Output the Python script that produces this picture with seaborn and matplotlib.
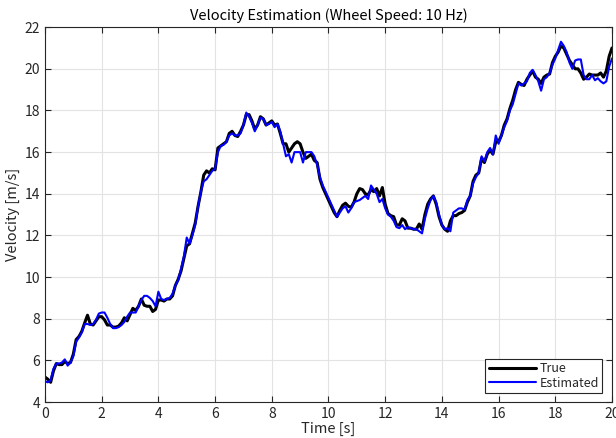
import numpy as np
import pandas as pd
import matplotlib
matplotlib.use("Agg")
import matplotlib.pyplot as plt
import seaborn as sns

# time axis, 0.1 s steps
time_s = np.round(np.arange(0, 20.05, 0.1), 1)

true_vel = [
    5.2, 5.1, 4.95, 5.5, 5.85, 5.8, 5.8, 5.95, 5.85, 5.9,
    6.3, 7.0, 7.15, 7.4, 7.8, 8.17, 7.75, 7.7, 7.9, 8.1,
    8.1, 7.95, 7.7, 7.7, 7.6, 7.6, 7.65, 7.8, 8.05, 7.9,
    8.2, 8.5, 8.4, 8.6, 8.95, 8.65, 8.6, 8.6, 8.35, 8.45,
    8.9, 8.9, 8.85, 8.95, 8.95, 9.1, 9.6, 9.9, 10.3, 10.9,
    11.5, 11.6, 12.1, 12.6, 13.4, 14.1, 14.9, 15.1, 15.0, 15.2,
    15.15, 16.2, 16.3, 16.4, 16.5, 16.9, 17.0, 16.8, 16.75, 17.0,
    17.3, 17.8, 17.8, 17.5, 17.1, 17.3, 17.7, 17.6, 17.3, 17.4,
    17.5, 17.3, 17.35, 16.9, 16.4, 16.4, 16.0, 16.2, 16.4, 16.5,
    16.4, 16.0, 15.7, 15.8, 15.9, 15.6, 15.5, 14.7, 14.3, 14.0,
    13.7, 13.4, 13.1, 12.9, 13.2, 13.45, 13.55, 13.4, 13.35, 13.6,
    14.0, 14.25, 14.2, 14.0, 13.95, 14.2, 14.1, 14.25, 13.9, 14.3,
    13.5, 13.05, 12.95, 12.9, 12.5, 12.5, 12.8, 12.7, 12.35, 12.35,
    12.3, 12.3, 12.55, 12.3, 13.0, 13.5, 13.75, 13.9, 13.5, 12.9,
    12.5, 12.3, 12.2, 12.7, 12.95, 12.95, 13.05, 13.1, 13.2, 13.6,
    13.9, 14.6, 14.9, 15.0, 15.7, 15.5, 15.9, 16.1, 15.9, 16.5,
    16.5, 16.8, 17.3, 17.6, 18.1, 18.5, 19.0, 19.35, 19.25, 19.2,
    19.5, 19.7, 19.9, 19.6, 19.5, 19.3, 19.6, 19.7, 19.75, 20.3,
    20.6, 20.8, 21.1, 21.0, 20.7, 20.4, 20.2, 20.0, 20.0, 19.8,
    19.5, 19.6, 19.75, 19.7, 19.7, 19.7, 19.8, 19.6, 19.9, 20.6,
    21.0,
]

est_vel = [
    5.0, 4.95, 5.05, 5.6, 5.85, 5.85, 5.9, 6.05, 5.75, 5.9,
    6.2, 6.9, 7.1, 7.35, 7.75, 7.75, 7.7, 7.75, 7.95, 8.25,
    8.3, 8.3, 8.05, 7.75, 7.55, 7.55, 7.6, 7.7, 7.85, 8.1,
    8.3, 8.3, 8.3, 8.6, 8.9, 9.1, 9.1, 9.0, 8.85, 8.6,
    9.3, 8.95, 8.9, 8.95, 9.0, 9.2, 9.6, 9.85, 10.4, 11.0,
    11.9, 11.6, 12.0, 12.5, 13.4, 14.1, 14.6, 14.7, 14.9, 15.1,
    15.2, 16.0, 16.3, 16.35, 16.5, 16.8, 16.9, 16.8, 16.8, 16.9,
    17.3, 17.9, 17.7, 17.4, 17.0, 17.3, 17.65, 17.6, 17.3, 17.35,
    17.45, 17.2, 17.35, 17.0, 16.4, 15.8, 15.9, 15.5, 16.0, 16.0,
    16.0, 15.5, 16.0, 16.0, 16.0, 15.8, 15.4, 14.8, 14.4, 14.1,
    13.8, 13.5, 13.2, 12.9, 13.1, 13.3, 13.4, 13.1, 13.3, 13.6,
    13.65, 13.7, 13.8, 13.9, 13.75, 14.4, 14.2, 14.0, 13.6, 13.75,
    13.3, 13.0, 12.9, 12.7, 12.4, 12.35, 12.5, 12.3, 12.4, 12.35,
    12.3, 12.3, 12.2, 12.1, 12.8, 13.3, 13.7, 13.9, 13.6, 13.0,
    12.5, 12.3, 12.35, 12.2, 13.1, 13.2, 13.3, 13.3, 13.25, 13.7,
    13.9, 14.5, 14.8, 15.0, 15.8, 15.55, 16.0, 16.2, 15.9, 16.8,
    16.4, 16.8, 17.2, 17.5, 18.0, 18.3, 18.8, 19.3, 19.2, 19.3,
    19.4, 19.8, 19.95, 19.7, 19.4, 18.95, 19.5, 19.6, 19.8, 20.2,
    20.5, 20.9, 21.3, 21.1, 20.8, 20.3, 20.0, 20.4, 20.45, 20.45,
    19.7, 19.5, 19.5, 19.7, 19.45, 19.55, 19.4, 19.3, 19.4, 20.1,
    20.5,
]

series_names = ["True", "Estimated"]
x_ticks = list(range(0, 21, 2))
y_ticks = list(range(4, 23, 2))

df = pd.concat([
    pd.DataFrame({"t": time_s, "v": true_vel, "Series": "True"}),
    pd.DataFrame({"t": time_s, "v": est_vel, "Series": "Estimated"}),
])

sns.set_style("white")
plt.rcParams["font.family"] = ["Noto Sans CJK JP", "DejaVu Sans"]

fig = plt.figure(figsize=(6.16, 4.38), dpi=100)
ax = fig.add_axes([0.073, 0.082, 0.9205, 0.856])

sns.lineplot(data=df, x="t", y="v", hue="Series", hue_order=series_names,
             palette={"True": "black", "Estimated": "#0000ff"},
             size="Series", sizes={"True": 2.2, "Estimated": 1.5},
             size_order=series_names, ax=ax, legend=False, sort=False,
             estimator=None)

ax.set_xlim(0, 20)
ax.set_ylim(4, 22)
ax.set_xticks(x_ticks)
ax.set_yticks(y_ticks)
ax.grid(True, color="#e3e3e3", linewidth=0.8)
ax.set_axisbelow(True)

dark = "#262626"
for side in ax.spines.values():
    side.set_visible(True)
    side.set_color(dark)
    side.set_linewidth(0.8)
ax.tick_params(direction="in", length=4, width=0.8, colors=dark,
               labelsize=10, top=True, right=True, bottom=True, left=True)

ax.set_xlabel("Time [s]", fontsize=10.5, color=dark, labelpad=1)
ax.set_ylabel("Velocity [m/s]", fontsize=10.5, color=dark, labelpad=3)
ax.set_title("Velocity Estimation (Wheel Speed: 10 Hz)", fontsize=10.5,
             color="black", pad=5)

handles = [plt.Line2D([], [], color="black", lw=2.2),
           plt.Line2D([], [], color="#0000ff", lw=1.5)]
leg = ax.legend(handles, series_names, loc="lower right", fontsize=9,
                frameon=True, fancybox=False, framealpha=1,
                edgecolor=dark, handlelength=3.8, handletextpad=0.3,
                borderpad=0.25, labelspacing=0.1,
                bbox_to_anchor=(0.994, 0.008))
leg.get_frame().set_linewidth(0.8)

fig.savefig("out.png", dpi=100)
